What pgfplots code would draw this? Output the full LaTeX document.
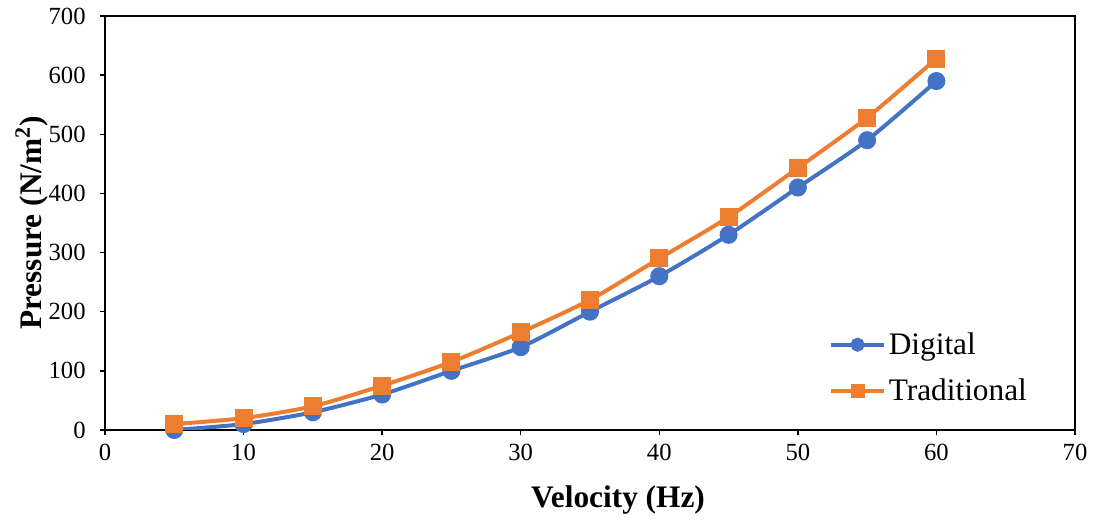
\documentclass[border=0pt]{standalone}
\usepackage{pgfplots}
\pgfplotsset{compat=1.18}
\usepackage{fontspec}
\setmainfont{Liberation Serif}
\usetikzlibrary{calc}
\definecolor{cblue}{HTML}{4472C4}
\definecolor{corange}{HTML}{ED7D31}
\begin{document}
\begin{tikzpicture}
\begin{axis}[
  name=ax,
  scale only axis,
  width=727.5pt, height=310.5pt,
  xmin=0, xmax=70, ymin=0, ymax=700,
  xtick={0,10,...,70}, ytick={0,100,...,700},
  tick align=outside, tick pos=left,
  major tick length=4pt,
  axis line style={line width=1pt},
  every tick/.style={black, line width=1pt},
  /pgf/number format/assume math mode=true,
  ticklabel style={font=\fontsize{18.5}{21}\selectfont},
  yticklabel style={xshift=-7pt},
  xticklabel style={yshift=-3pt},
  xlabel={Velocity (Hz)},
  ylabel={Pressure (N/m\textsuperscript{2})},
  label style={font=\fontsize{23.5}{26}\selectfont\bfseries},
  xlabel style={at={(axis description cs:0.5,0)}, anchor=center, yshift=-52.5pt, xshift=21pt},
  ylabel style={at={(axis description cs:0,0.5)}, anchor=center, yshift=54.75pt},
  legend style={draw=none, fill=none, at={(0.742,0.15)}, anchor=west,
    font=\fontsize{23.5}{26}\selectfont, row sep=13pt},
  legend cell align=left,
  legend image code/.code={\draw[mark repeat=2,mark phase=2,mark size=3.75pt] plot coordinates {(0cm,0cm) (0.7cm,0cm) (1.4cm,0cm)};},
]
\addplot[cblue, line width=3pt, smooth, tension=0.4, mark=*, mark size=5.25pt, mark options={solid}]
coordinates {(5,0) (10,10) (15,30) (20,60) (25,100) (30,140) (35,200) (40,260) (45,330) (50,410) (55,490) (60,590)};
\addlegendentry{Digital}
\addplot[corange, line width=3pt, smooth, tension=0.4, mark=square*, mark size=5.25pt, mark options={solid}]
coordinates {(5,10) (10,20) (15,40) (20,75) (25,115) (30,165) (35,220) (40,290) (45,360) (50,443) (55,528) (60,628)};
\addlegendentry{Traditional}
\end{axis}
\pgfresetboundingbox
\path ($(ax.south west)+(-78.75pt,-68.25pt)$) rectangle ($(ax.north east)+(14.25pt,12pt)$);
\end{tikzpicture}
\end{document}
